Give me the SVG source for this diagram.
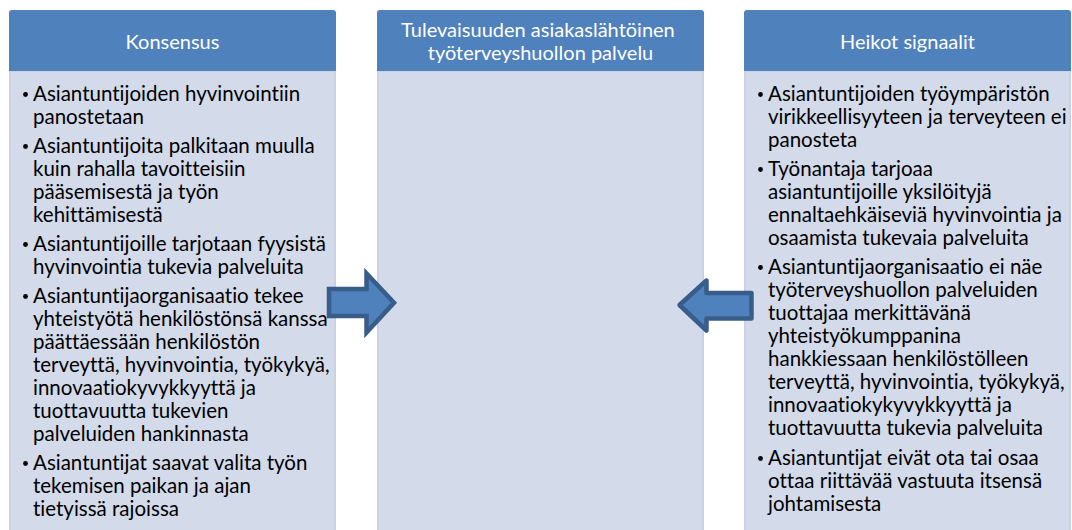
<svg xmlns="http://www.w3.org/2000/svg" width="1072" height="530" viewBox="0 0 1072 530">
  <style>
    .hdr { fill: #4F81BD; }
    .body { fill: #D3DAE9; stroke: #C7CFE2; stroke-width: 1.5; }
    .ht { font-family: Lato, "Liberation Sans", sans-serif; font-size: 20px; fill: #FFFFFF; text-anchor: middle; font-variant-ligatures: none; }
    .bt { font-family: Lato, "Liberation Sans", sans-serif; font-size: 20.5px; fill: #000000; font-variant-ligatures: none; }
    .bul { fill: #000000; }
    .arrow { fill: #4F81BD; stroke: #385D8A; stroke-width: 4.5; }
  </style>

  <rect width="1072" height="530" fill="#FFFFFF"/>

  <!-- Left column: Konsensus -->
  <g id="konsensus">
    <rect class="body" x="9.75" y="71" width="325.5" height="470"/>
    <path class="hdr" d="M9,71 V13 Q9,10 12,10 H333 Q336,10 336,13 V71 Z"/>
    <text class="ht" x="172.5" y="49">Konsensus</text>
    <g class="bul">
      <circle cx="25.5" cy="94.5" r="2.4"/>
      <circle cx="25.5" cy="146.5" r="2.4"/>
      <circle cx="25.5" cy="244.5" r="2.4"/>
      <circle cx="25.5" cy="296.5" r="2.4"/>
      <circle cx="25.5" cy="463.5" r="2.4"/>
    </g>
    <text class="bt">
      <tspan x="33" y="101">Asiantuntijoiden hyvinvointiin</tspan>
      <tspan x="33" y="124">panostetaan</tspan>
      <tspan x="33" y="153">Asiantuntijoita palkitaan muulla</tspan>
      <tspan x="33" y="176">kuin rahalla tavoitteisiin</tspan>
      <tspan x="33" y="199">pääsemisestä ja työn</tspan>
      <tspan x="33" y="222">kehittämisestä</tspan>
      <tspan x="33" y="251">Asiantuntijoille tarjotaan fyysistä</tspan>
      <tspan x="33" y="274">hyvinvointia tukevia palveluita</tspan>
      <tspan x="33" y="303">Asiantuntijaorganisaatio tekee</tspan>
      <tspan x="33" y="326">yhteistyötä henkilöstönsä kanssa</tspan>
      <tspan x="33" y="349">päättäessään henkilöstön</tspan>
      <tspan x="33" y="372">terveyttä, hyvinvointia, työkykyä,</tspan>
      <tspan x="33" y="395">innovaatiokyvykkyyttä ja</tspan>
      <tspan x="33" y="418">tuottavuutta tukevien</tspan>
      <tspan x="33" y="441">palveluiden hankinnasta</tspan>
      <tspan x="33" y="470">Asiantuntijat saavat valita työn</tspan>
      <tspan x="33" y="493">tekemisen paikan ja ajan</tspan>
      <tspan x="33" y="516">tietyissä rajoissa</tspan>
    </text>
  </g>

  <!-- Middle column: future service -->
  <g id="palvelu">
    <rect class="body" x="377.75" y="71" width="325.5" height="470"/>
    <path class="hdr" d="M377,71 V13 Q377,10 380,10 H701 Q704,10 704,13 V71 Z"/>
    <text class="ht">
      <tspan x="540.5" y="37">Tulevaisuuden asiakaslähtöinen</tspan>
      <tspan x="540.5" y="60">työterveyshuollon palvelu</tspan>
    </text>
  </g>

  <!-- Right column: Heikot signaalit -->
  <g id="heikot-signaalit">
    <rect class="body" x="744.75" y="71" width="325.5" height="470"/>
    <path class="hdr" d="M744,71 V13 Q744,10 747,10 H1068 Q1071,10 1071,13 V71 Z"/>
    <text class="ht" x="907.5" y="49">Heikot signaalit</text>
    <g class="bul">
      <circle cx="760.5" cy="94.5" r="2.4"/>
      <circle cx="760.5" cy="169.5" r="2.4"/>
      <circle cx="760.5" cy="267.5" r="2.4"/>
      <circle cx="760.5" cy="458.5" r="2.4"/>
    </g>
    <text class="bt">
      <tspan x="768" y="101">Asiantuntijoiden työympäristön</tspan>
      <tspan x="768" y="124">virikkeellisyyteen ja terveyteen ei</tspan>
      <tspan x="768" y="147">panosteta</tspan>
      <tspan x="768" y="176">Työnantaja tarjoaa</tspan>
      <tspan x="768" y="199">asiantuntijoille yksilöityjä</tspan>
      <tspan x="768" y="222">ennaltaehkäiseviä hyvinvointia ja</tspan>
      <tspan x="768" y="245">osaamista tukevaia palveluita</tspan>
      <tspan x="768" y="274">Asiantuntijaorganisaatio ei näe</tspan>
      <tspan x="768" y="297">työterveyshuollon palveluiden</tspan>
      <tspan x="768" y="320">tuottajaa merkittävänä</tspan>
      <tspan x="768" y="343">yhteistyökumppanina</tspan>
      <tspan x="768" y="366">hankkiessaan henkilöstölleen</tspan>
      <tspan x="768" y="389">terveyttä, hyvinvointia, työkykyä,</tspan>
      <tspan x="768" y="412">innovaatiokykyvykkyyttä ja</tspan>
      <tspan x="768" y="435">tuottavuutta tukevia palveluita</tspan>
      <tspan x="768" y="465">Asiantuntijat eivät ota tai osaa</tspan>
      <tspan x="768" y="488">ottaa riittävää vastuuta itsensä</tspan>
      <tspan x="768" y="511">johtamisesta</tspan>
    </text>
  </g>

  <!-- Block arrows pointing into the middle column -->
  <g id="connectors">
    <path class="arrow" stroke-linejoin="miter" d="M329,289 H366.5 V273.5 L394,302.7 L366.5,332.5 V316 H329 Z"/>
    <path class="arrow" stroke-linejoin="round" d="M751.5,293 H706.5 V280.5 L679.5,305 L706.5,330.5 V318.5 H751.5 Z"/>
  </g>
</svg>
